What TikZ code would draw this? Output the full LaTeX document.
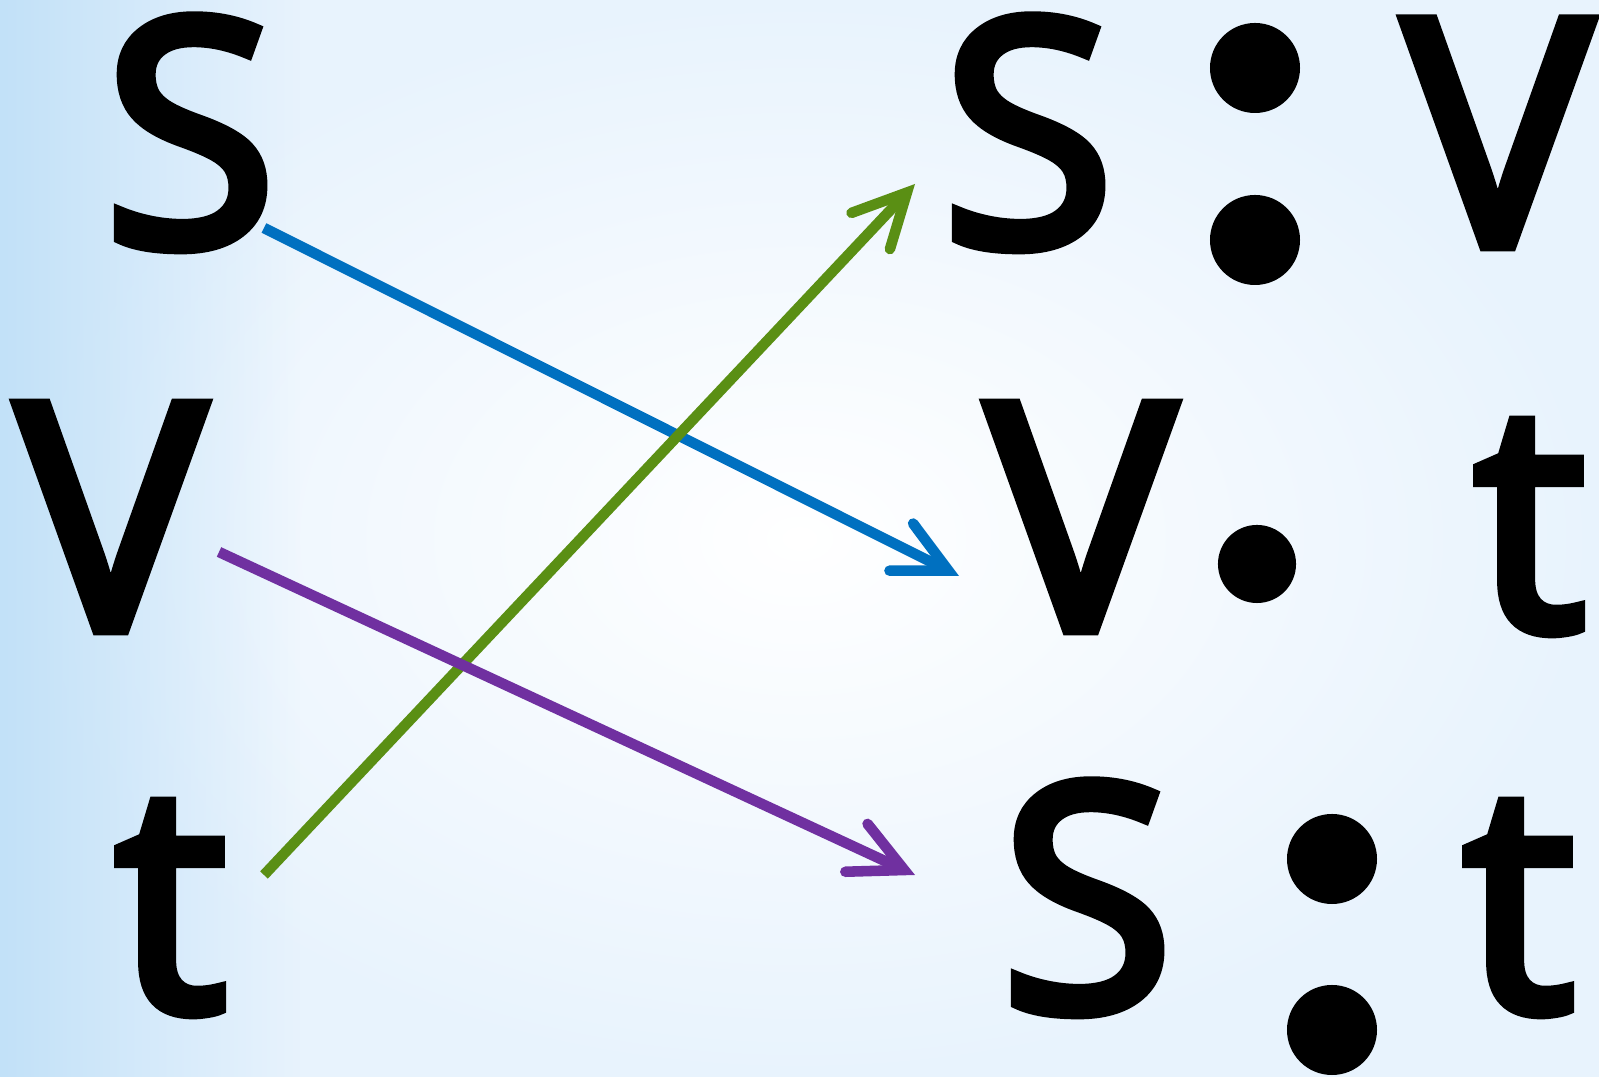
\documentclass[tikz,border=0pt]{standalone}
\usepackage{fontspec}
\setmainfont{Open Sans}
\newfontfamily\letterfont{Open Sans}[FakeBold=4]
\usetikzlibrary{arrows.meta,calc,fadings}

\definecolor{bgblue}{HTML}{C2E1F8}
\definecolor{bgpale}{HTML}{E8F3FD}
\definecolor{arrblue}{HTML}{0070C0}
\definecolor{arrgreen}{HTML}{5A8F14}
\definecolor{arrpurple}{HTML}{7030A0}

\tikzfading[name=bandfade,top color=transparent!100,middle color=transparent!0,bottom color=transparent!100]
\tikzfading[name=edgefade,left color=transparent!0,right color=transparent!100]

\begin{document}
\begin{tikzpicture}[x=0.01cm,y=-0.01cm,
  letter/.style={inner sep=0pt,anchor=base,font=\letterfont\fontsize{89.3}{100}\selectfont},
  dot/.style={circle,fill=black,inner sep=0pt},
  link/.style={line width=3pt,-{Straight Barb[length=15pt,width=15pt,line cap=round]}}]
\useasboundingbox (0,0) rectangle (1599,1077);
% background
\fill[bgpale] (0,0) rectangle (1599,1077);
\shade[inner color=white,outer color=bgpale] (0,0) rectangle (1599,1077);
\fill[bgblue,path fading=edgefade] (0,0) rectangle (300,1077);
\fill[bgblue,path fading=bandfade] (0,800) rectangle (1599,890);
\fill[bgblue,path fading=bandfade] (0,905) rectangle (1599,990);
% letters
\foreach \n/\x/\y/\l in {sL/190/245/S, vL/111/629/V, tL/171/1010/t,
  sR/1028/245/S, vRa/1498/245/V, vRb/1081/629/V, tRb/1530/629/t,
  sRc/1087/1010/S, tRc/1519/1010/t}
  \node[letter] (\n) at (\x,\y) {\l};
% colons and dot
\foreach \n/\x/\y/\d in {ca1/1255/68/25.6pt, ca2/1255/240/25.6pt, db/1257/564/22.2pt,
  cc1/1332/859/25.6pt, cc2/1332/1030/25.6pt}
  \node[dot,minimum size=\d] (\n) at (\x,\y) {};
% arrows
\draw[link,arrblue] ($(sL.base)+(74,-17)$) -- ($(vRb.base)+(-122,-53)$);
\draw[link,arrgreen] ($(tL.base)+(93,-135)$) -- ($(sR.base)+(-113,-61)$);
\draw[link,arrpurple] ($(vL.base)+(108,-77)$) -- ($(sRc.base)+(-172,-135)$);
\end{tikzpicture}
\end{document}
